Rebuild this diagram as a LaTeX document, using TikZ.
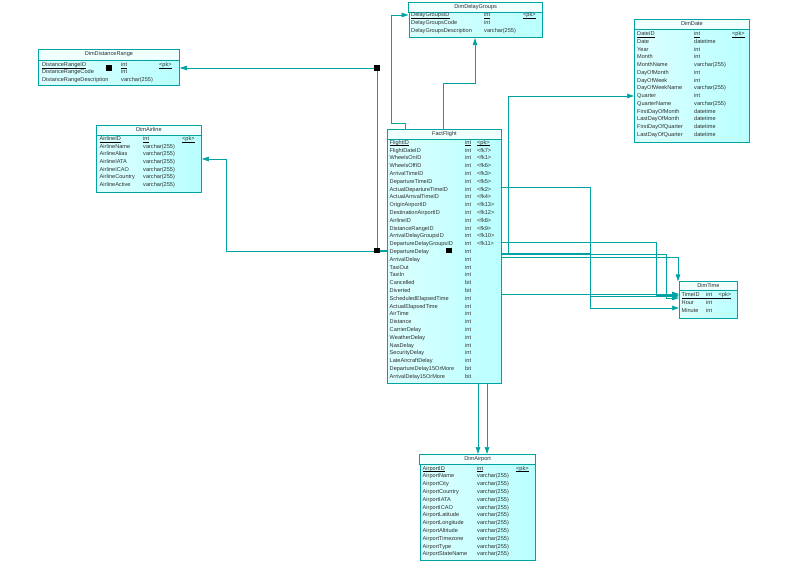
\documentclass[tikz,border=0pt]{standalone}
\usepackage{fontspec}
\setmainfont{Liberation Sans}
\usetikzlibrary{arrows.meta, calc}

\definecolor{erline}{RGB}{0,163,163}
\definecolor{erfill}{RGB}{185,255,255}
\definecolor{ertext}{RGB}{45,45,45}

\begin{document}
\begin{tikzpicture}[
    x=1pt, y=-1pt,
    >={Triangle[length=7pt, width=4.5pt]},
    % Styles
    tablebox/.style={draw=erline, line width=0.8pt, left color=erfill!50, right color=erfill, anchor=north west, inner sep=0pt},
    titleband/.style={fill=erfill!22, draw=erline, line width=0.8pt},
    tab_title/.style={font=\fontsize{5.6}{6}\selectfont, text=ertext, inner sep=0pt, text height=4.2pt, text depth=1.4pt},
    field/.style={font=\fontsize{5.6}{6}\selectfont, text=ertext, anchor=west, inner sep=0pt, text height=4.2pt, text depth=1.2pt},
    pk_line/.style={draw=black, line width=0.55pt},
    fk/.style={draw=erline, line width=0.7pt, ->},
    handle_box/.style={fill=black, minimum size=5.5pt, inner sep=0pt}
]
\useasboundingbox (0,0) rectangle (791,569);

% 1. DimDistanceRange
\node[tablebox, minimum width=141pt, minimum height=36pt] (distrange) at (38,49) {};
\filldraw[titleband] (distrange.north west) rectangle (distrange.east |- 0,60);
\node[tab_title] (distrange-title) at (distrange.north |- 0,54.5) {DimDistanceRange};
\foreach \fname/\ftype/\fkey [count=\i from 0] in {
    DistanceRangeID/int/<pk>,
    DistanceRangeCode/int/{},
    DistanceRangeDescription/varchar(255)/{}} {
    \node[field] (distrange-n\i) at (42,{65+7.3*\i}) {\fname};
    \node[field] (distrange-t\i) at (121,{65+7.3*\i}) {\ftype};
    \node[field] (distrange-k\i) at (159,{65+7.3*\i}) {\fkey};
}
\foreach \c in {n,t,k} \draw[pk_line] (distrange-\c0.south west) -- (distrange-\c0.south east);

% 2. DimAirline
\node[tablebox, minimum width=105pt, minimum height=67pt] (airline) at (96,125) {};
\filldraw[titleband] (airline.north west) rectangle (airline.east |- 0,135.5);
\node[tab_title] (airline-title) at (airline.north |- 0,130.2) {DimAirline};
\foreach \fname/\ftype/\fkey [count=\i from 0] in {
    AirlineID/int/<pk>,
    AirlineName/varchar(255)/{},
    AirlineAlias/varchar(255)/{},
    AirlineIATA/varchar(255)/{},
    AirlineICAO/varchar(255)/{},
    AirlineCountry/varchar(255)/{},
    AirlineActive/varchar(255)/{}} {
    \node[field] (airline-n\i) at (99.5,{139+7.7*\i}) {\fname};
    \node[field] (airline-t\i) at (143,{139+7.7*\i}) {\ftype};
    \node[field] (airline-k\i) at (182,{139+7.7*\i}) {\fkey};
}
\foreach \c in {n,t,k} \draw[pk_line] (airline-\c0.south west) -- (airline-\c0.south east);

% 3. DimDelayGroups
\node[tablebox, minimum width=133.5pt, minimum height=35.3pt] (delay) at (408.5,2) {};
\filldraw[titleband] (delay.north west) rectangle (delay.east |- 0,12.3);
\node[tab_title] (delay-title) at (delay.north |- 0,7.2) {DimDelayGroups};
\foreach \fname/\ftype/\fkey [count=\i from 0] in {
    DelayGroupsID/int/<pk>,
    DelayGroupsCode/int/{},
    DelayGroupsDescription/varchar(255)/{}} {
    \node[field] (delay-n\i) at (411,{15.5+7.7*\i}) {\fname};
    \node[field] (delay-t\i) at (484,{15.5+7.7*\i}) {\ftype};
    \node[field] (delay-k\i) at (523,{15.5+7.7*\i}) {\fkey};
}
\foreach \c in {n,t,k} \draw[pk_line] (delay-\c0.south west) -- (delay-\c0.south east);

% 4. DimDate
\node[tablebox, minimum width=115pt, minimum height=123pt] (date) at (634,19) {};
\filldraw[titleband] (date.north west) rectangle (date.east |- 0,29.5);
\node[tab_title] (date-title) at (date.north |- 0,24.3) {DimDate};
\foreach \fname/\ftype/\fkey [count=\i from 0] in {
    DateID/int/<pk>,
    Date/datetime/{}, Year/int/{}, Month/int/{},
    MonthName/varchar(255)/{}, DayOfMonth/int/{}, DayOfWeek/int/{},
    DayOfWeekName/varchar(255)/{}, Quarter/int/{},
    QuarterName/varchar(255)/{}, FirstDayOfMonth/datetime/{},
    LastDayOfMonth/datetime/{}, FirstDayOfQuarter/datetime/{},
    LastDayOfQuarter/datetime/{}} {
    \node[field] (date-n\i) at (637,{34.2+7.75*\i}) {\fname};
    \node[field] (date-t\i) at (694,{34.2+7.75*\i}) {\ftype};
    \node[field] (date-k\i) at (732,{34.2+7.75*\i}) {\fkey};
}
\foreach \c in {n,t,k} \draw[pk_line] (date-\c0.south west) -- (date-\c0.south east);

% 5. FactFlight
\node[tablebox, minimum width=114pt, minimum height=254pt] (fact) at (387,129) {};
\filldraw[titleband] (fact.north west) rectangle (fact.east |- 0,139.5);
\node[tab_title] (fact-title) at (fact.north |- 0,134.3) {FactFlight};
\foreach \fname/\ftype/\fkey [count=\i from 0] in {
    FlightID/int/<pk>,
    FlightDateID/int/<fk7>, WheelsOnID/int/<fk1>, WheelsOffID/int/<fk6>,
    ArrivalTimeID/int/<fk3>, DepartureTimeID/int/<fk5>,
    ActualDepartureTimeID/int/<fk2>, ActualArrivalTimeID/int/<fk4>,
    OriginAirportID/int/<fk13>, DestinationAirportID/int/<fk12>,
    AirlineID/int/<fk8>, DistanceRangeID/int/<fk9>,
    ArrivalDelayGroupsID/int/<fk10>, DepartureDelayGroupsID/int/<fk11>} {
    \node[field] (fact-n\i) at (389.5,{142.8+7.8*\i}) {\fname};
    \node[field] (fact-t\i) at (465,{142.8+7.8*\i}) {\ftype};
    \node[field] (fact-k\i) at (477,{142.8+7.8*\i}) {\fkey};
}
\foreach \fname/\ftype [count=\i from 14] in {
    DepartureDelay/int, ArrivalDelay/int, TaxiOut/int, TaxiIn/int,
    Cancelled/bit, Diverted/bit, ScheduledElapsedTime/int,
    ActualElapsedTime/int, AirTime/int, Distance/int, CarrierDelay/int,
    WeatherDelay/int, NasDelay/int, SecurityDelay/int,
    LateAircraftDelay/int, DepartureDelay15OrMore/bit,
    ArrivalDelay15OrMore/bit} {
    \node[field] (fact-n\i) at (389.5,{142.8+7.8*\i}) {\fname};
    \node[field] (fact-t\i) at (465,{142.8+7.8*\i}) {\ftype};
}
\foreach \c in {n,t,k} \draw[pk_line] (fact-\c0.south west) -- (fact-\c0.south east);

% 6. DimTime
\node[tablebox, minimum width=58pt, minimum height=36.7pt] (time) at (679,281.3) {};
\filldraw[titleband] (time.north west) rectangle (time.east |- 0,290.5);
\node[tab_title] (time-title) at (time.north |- 0,286) {DimTime};
\foreach \fname/\ftype/\fkey [count=\i from 0] in {
    TimeID/int/<pk>,
    Hour/int/{}, Minute/int/{}} {
    \node[field] (time-n\i) at (681.5,{294.9+7.8*\i}) {\fname};
    \node[field] (time-t\i) at (706,{294.9+7.8*\i}) {\ftype};
    \node[field] (time-k\i) at (718.5,{294.9+7.8*\i}) {\fkey};
}
\draw[pk_line] (time-n0.south west) -- (time-k0.south east);

% 7. DimAirport
\node[tablebox, minimum width=115.5pt, minimum height=106pt] (airport) at (419.5,454) {};
\filldraw[titleband] (airport.north west) rectangle (airport.east |- 0,464);
\node[tab_title] (airport-title) at (airport.north |- 0,459.3) {DimAirport};
\foreach \fname/\ftype/\fkey [count=\i from 0] in {
    AirportID/int/<pk>,
    AirportName/varchar(255)/{}, AirportCity/varchar(255)/{},
    AirportCountry/varchar(255)/{}, AirportIATA/varchar(255)/{},
    AirportICAO/varchar(255)/{}, AirportLatitude/varchar(255)/{},
    AirportLongitude/varchar(255)/{}, AirportAltitude/varchar(255)/{},
    AirportTimezone/varchar(255)/{}, AirportType/varchar(255)/{},
    AirportStateName/varchar(255)/{}} {
    \node[field] (airport-n\i) at (422.5,{468.5+7.8*\i}) {\fname};
    \node[field] (airport-t\i) at (477,{468.5+7.8*\i}) {\ftype};
    \node[field] (airport-k\i) at (516,{468.5+7.8*\i}) {\fkey};
}
\foreach \c in {n,t,k} \draw[pk_line] (airport-\c0.south west) -- (airport-\c0.south east);

% References
\draw[fk] (fact.west |- 0,250.5) -- (377,250.5) -- (377,68) -- (distrange.east |- 0,68);
\draw[fk] (fact.west |- 0,251.5) -- (226,251.5) -- (226,159) -- (airline.east |- 0,159);
\draw[fk] (fact.north -| 405,0) -- (405,123) -- (391,123) -- (391,15) -- (delay.west |- 0,15);
\draw[fk] (fact.north -| 443,0) -- (443,83) -- (475,83) -- (delay.south -| 475,0);
\draw[fk] (fact.east |- 0,253) -- (508,253) -- (508,96) -- (date.west |- 0,96);
\draw[fk] (fact.east |- 0,187) -- (590,187) -- (590,308) -- (time.west |- 0,308);
\draw[fk] (fact.east |- 0,242) -- (656,242) -- (656,295) -- (time.west |- 0,295);
\draw[fk] (fact.east |- 0,253) -- (590,253) -- (590,296) -- (time.west |- 0,296);
\draw[fk] (fact.east |- 0,254.5) -- (666,254.5) -- (666,298) -- (time.west |- 0,298);
\draw[fk] (fact.east |- 0,257) -- (678,257) -- (678,281.3);
\draw[fk] (fact.east |- 0,294) -- (time.west |- 0,294);
\draw[fk] (fact.south -| 478,0) -- (airport.north -| 478,0);
\draw[fk] (fact.south -| 487,0) -- (airport.north -| 487,0);

% Selection handles
\node[handle_box] (handle-a) at (377,68) {};
\node[handle_box] (handle-b) at (377,250.5) {};
\node[handle_box] (handle-c) at (109,68) {};
\node[handle_box] (handle-d) at (449,250.7) {};

\end{tikzpicture}
\end{document}
